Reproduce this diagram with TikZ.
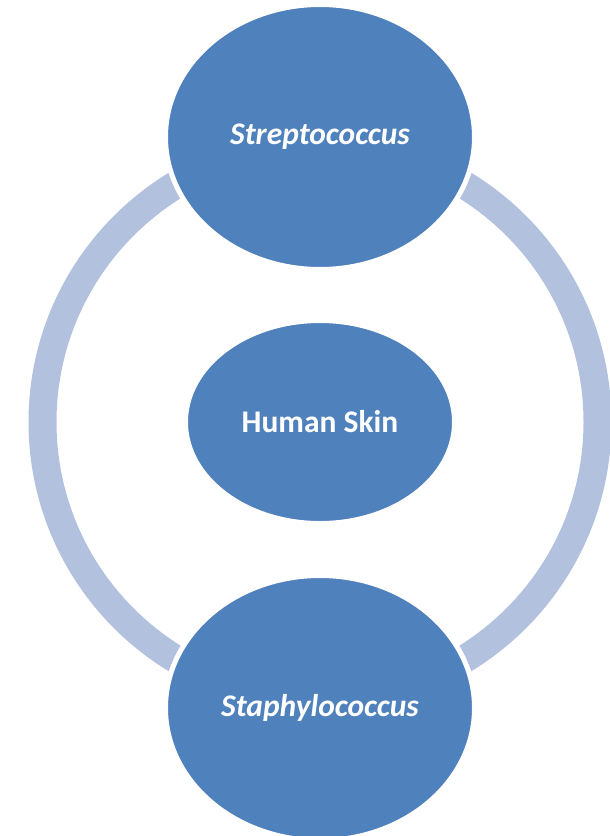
\documentclass[tikz,border=0pt]{standalone}
\usepackage{fontspec}
\setmainfont{Carlito}
\usetikzlibrary{shapes.geometric}
\definecolor{nodeblue}{HTML}{4F81BD}
\definecolor{ringblue}{HTML}{B2C1DD}
\tikzset{
  bubble/.style={ellipse, fill=nodeblue, draw=white, line width=5pt, inner sep=0pt,
    text=white, font=\fontsize{31.5}{36}\selectfont\bfseries},
  ring/.style={draw=ringblue, line width=28pt}
}
\begin{document}
\begin{tikzpicture}[x=1pt,y=-1pt]
\useasboundingbox (0,0) rectangle (610,836);
\clip (0,0) rectangle (610,836);
\coordinate (c) at (320,422);
\draw[ring] (c) circle (277.5);
\node[bubble, minimum width=309pt, minimum height=265pt] (top) at (320,137) {\itshape Streptococcus};
\node[bubble, minimum width=269pt, minimum height=203pt] (mid) at (c) {Human Skin};
\node[bubble, minimum width=309pt, minimum height=265pt] (bot) at (320,708) {\itshape Staphylococcus};
\end{tikzpicture}
\end{document}
